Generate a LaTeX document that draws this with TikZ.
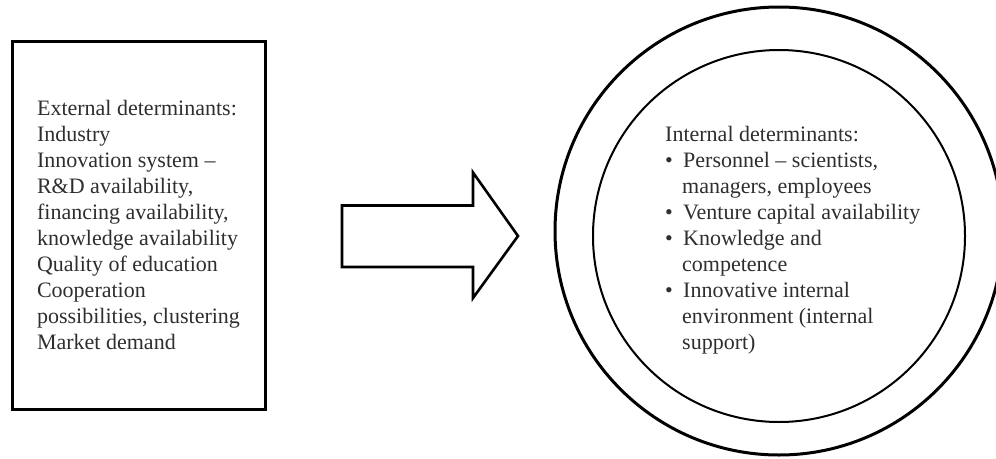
\documentclass[tikz,border=0pt]{standalone}
\usepackage{fontspec}
\setmainfont{Liberation Serif}
\usetikzlibrary{positioning}

\newcommand{\itm}{\makebox[18pt][l]{\textbullet}}
\newcommand{\cont}{\hspace*{17pt}}

\begin{document}
\begin{tikzpicture}[
    x=1pt, y=-1pt,
    every node/.style={font=\fontsize{22}{26}\selectfont, text=black!82},
    extBox/.style={
        rectangle, draw, line width=3pt, inner sep=0pt,
        minimum width=253pt, minimum height=368pt, align=left
    },
    ring/.style={circle, draw, inner sep=0pt},
    blockArrow/.style={draw, line width=2.6pt, miter limit=10, fill=white}
]
    \useasboundingbox (0,0) rectangle (996,458);

    % --- 1. External determinants ---
    \node[extBox] (external) at (138.5,225) {
        External determinants:\\
        Industry\\
        Innovation system --\\
        R\&D availability,\\
        financing availability,\\
        knowledge availability\\
        Quality of education\\
        Cooperation\\
        possibilities, clustering\\
        Market demand
    };

    % --- 2. Block arrow ---
    \coordinate (tail) at (342,236);
    \coordinate (tip) at (518,236);
    \draw[blockArrow] (tail) ++(0,-30.5) -- ++(131,0) -- ++(0,-33)
        -- (tip) -- ++(-45,62) -- ++(0,-31) -- ++(-131,0) -- cycle;

    % --- 3. Internal determinants ---
    \node[ring, line width=3pt, minimum size=448pt] (outer) at (779,231) {};
    \node[ring, line width=2pt, minimum size=372pt] (inner) at (779,236) {};
    \node[anchor=north west, inner sep=0pt, align=left] (internal) at (665,126) {
        Internal determinants:\\
        \itm Personnel -- scientists,\\
        \cont managers, employees\\
        \itm Venture capital availability\\
        \itm Knowledge and\\
        \cont competence\\
        \itm Innovative internal\\
        \cont environment (internal\\
        \cont support)
    };
\end{tikzpicture}
\end{document}
